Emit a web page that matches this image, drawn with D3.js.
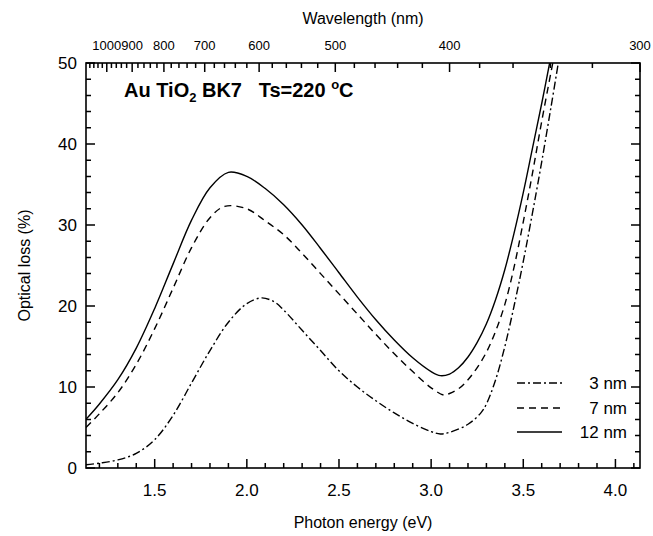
<!DOCTYPE html>
<html><head><meta charset="utf-8">
<script src="https://cdn.jsdelivr.net/npm/d3@7"></script>
<style>body{margin:0;background:#fff}text{font-family:"Liberation Sans",Arial,sans-serif;fill:#000}</style>
</head><body><svg id="c" width="653" height="536"></svg>
<script>
const energy3 = [1.127,1.2,1.3,1.4,1.5,1.6,1.7,1.8,1.9,2.0,2.08,2.15,2.2,2.3,2.4,2.5,2.6,2.7,2.8,2.9,3.0,3.05,3.1,3.2,3.27,3.3,3.35,3.4,3.45,3.5,3.55,3.6,3.65,3.69];
const loss3   = [0.4,0.6,1.0,1.8,3.5,6.5,10.5,14.5,18,20.3,21,20.5,19.5,17,14.5,12,10,8.3,6.8,5.5,4.5,4.2,4.4,5.4,6.8,7.9,10.9,15.0,20.0,25.5,31.5,37.8,44.5,50];
const energy7 = [1.127,1.2,1.3,1.4,1.5,1.6,1.7,1.8,1.88,2.0,2.1,2.2,2.3,2.4,2.5,2.6,2.7,2.8,2.9,3.0,3.07,3.1,3.15,3.2,3.25,3.3,3.35,3.4,3.45,3.5,3.55,3.6,3.66];
const loss7   = [5,6.7,9.3,12.8,17.2,22.2,27.2,30.9,32.3,32,30.5,28.8,26.5,24,21.5,19,16.5,14.1,11.9,9.9,9.0,9.2,9.8,10.9,12.4,14.3,16.9,20.2,24.8,30.4,36.4,42.8,50];
const energy12 = [1.127,1.2,1.3,1.4,1.5,1.6,1.7,1.8,1.9,2.0,2.1,2.2,2.3,2.4,2.5,2.6,2.7,2.8,2.9,3.0,3.05,3.1,3.15,3.2,3.25,3.3,3.35,3.4,3.45,3.5,3.55,3.6,3.643];
const loss12   = [6,7.9,10.9,14.8,19.7,25.2,30.6,34.6,36.5,36,34.5,32.5,30,27.1,24.1,21.1,18.3,15.8,13.6,11.9,11.4,11.6,12.4,13.7,15.5,17.8,20.8,24.5,29,34,39.5,45,50];
const seriesNames = ["3 nm","7 nm","12 nm"];
const xTicks = [1.5,2.0,2.5,3.0,3.5,4.0];
const yTicks = [0,10,20,30,40,50];
const wlTicks = [1000,900,800,700,600,500,400,300];

const svg = d3.select("#c");
const L=86,R=640,T=63,B=468;
const x = d3.scaleLinear().domain([1240/1100,1240/300]).range([L,R]);
const y = d3.scaleLinear().domain([0,50]).range([B,T]);

svg.append("clipPath").attr("id","clip").append("rect").attr("x",L).attr("y",T).attr("width",R-L).attr("height",B-T);

const line = d3.line().x(d=>x(d[0])).y(d=>y(d[1])).curve(d3.curveCatmullRom.alpha(0.5));
const series = [
  {e:energy3,v:loss3,dash:"8,3,2,3"},
  {e:energy7,v:loss7,dash:"7,5"},
  {e:energy12,v:loss12,dash:null}
];
series.forEach(s=>{
  svg.append("path").attr("clip-path","url(#clip)")
   .attr("d",line(s.e.map((e,i)=>[e,s.v[i]])))
   .attr("fill","none").attr("stroke","#000").attr("stroke-width",1.4)
   .attr("stroke-dasharray",s.dash);
});

const xMinor = d3.range(12,42).map(v=>v/10).filter(v=>!xTicks.some(t=>Math.abs(t-v)<1e-9));
const yMinor = d3.range(0,51,2).filter(v=>v%10!==0);
const wlMinor = d3.range(300,1101,20).filter(w=>w%100!==0);
let dstr = "";
const vt=(vals,f,y0,len)=>vals.forEach(v=>{dstr+=`M${f(v)},${y0}V${y0+len}`;});
const ht=(vals,f,x0,len)=>vals.forEach(v=>{dstr+=`M${x0},${f(v)}H${x0+len}`;});
vt(xTicks, d=>x(d), B, -9);
vt(xMinor, d=>x(d), B, -5);
vt(wlTicks, d=>x(1240/d), T, 9);
vt(wlMinor, d=>x(1240/d), T, 5);
ht(yTicks, d=>y(d), L, 9);
ht(yMinor, d=>y(d), L, 5);
ht(yTicks, d=>y(d), R, -9);
ht(yMinor, d=>y(d), R, -5);
svg.append("path").attr("d",dstr).attr("fill","none").attr("stroke","#000").attr("stroke-width",1.5);

svg.append("rect").attr("x",L).attr("y",T).attr("width",R-L).attr("height",B-T).attr("fill","none").attr("stroke","#000").attr("stroke-width",1.6);

svg.selectAll(null).data(xTicks).join("text").attr("x",d=>x(d)).attr("y",496).attr("text-anchor","middle").style("font-size","17px").text(d3.format(".1f"));
svg.selectAll(null).data(yTicks).join("text").attr("x",77).attr("y",d=>y(d)+6).attr("text-anchor","end").style("font-size","17px").text(d=>d);
svg.selectAll(null).data(wlTicks).join("text").attr("x",d=>x(1240/d)).attr("y",50).attr("text-anchor","middle").style("font-size","13px").text(d=>d);

svg.append("text").attr("x",(L+R)/2).attr("y",528).attr("text-anchor","middle").style("font-size","16px").text("Photon energy (eV)");
svg.append("text").attr("x",(L+R)/2).attr("y",24).attr("text-anchor","middle").style("font-size","16px").text("Wavelength (nm)");
svg.append("text").attr("transform",`translate(30,${(T+B)/2}) rotate(-90)`).attr("text-anchor","middle").style("font-size","16px").text("Optical loss (%)");

const ann = svg.append("text").attr("x",124).attr("y",97).attr("xml:space","preserve").style("font-size","20px").style("font-weight","bold").style("white-space","pre");
ann.append("tspan").text("Au TiO");
ann.append("tspan").attr("dy",5).style("font-size","13px").text("2");
ann.append("tspan").attr("dy",-5).text(" BK7   Ts=220 ");
ann.append("tspan").attr("dy",-8).style("font-size","13px").text("o");
ann.append("tspan").attr("dy",8).text("C");

const ly=[383,408,432];
series.forEach((s,i)=>{
  svg.append("line").attr("x1",517).attr("x2",562).attr("y1",ly[i]).attr("y2",ly[i]).attr("stroke","#000").attr("stroke-width",1.4).attr("stroke-dasharray",s.dash);
  svg.append("text").attr("x",627).attr("y",ly[i]+6).attr("text-anchor","end").style("font-size","17px").text(seriesNames[i]);
});
</script></body></html>
